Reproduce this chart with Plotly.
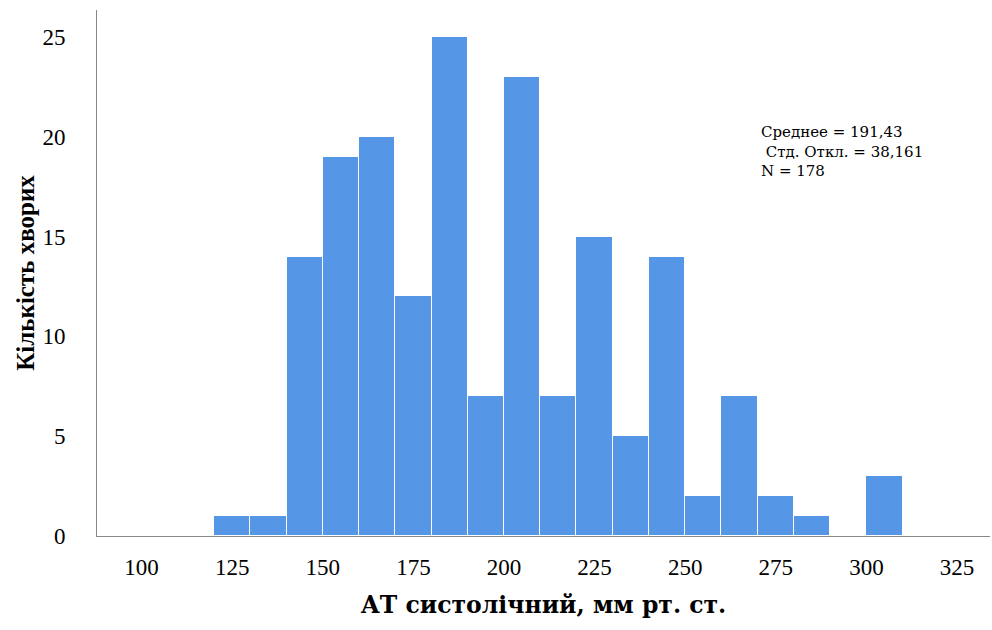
import plotly.graph_objects as go

bin_starts = [120, 130, 140, 150, 160, 170, 180, 190, 200, 210, 220, 230, 240, 250, 260, 270, 280, 290, 300]
counts = [1, 1, 14, 19, 20, 12, 25, 7, 23, 7, 15, 5, 14, 2, 7, 2, 1, 0, 3]
bin_width = 10
x_ticks = [100, 125, 150, 175, 200, 225, 250, 275, 300, 325]
y_ticks = [0, 5, 10, 15, 20, 25]
stats_text = ["Среднее = 191,43", " Стд. Откл. = 38,161", "N = 178"]

centers = [b + bin_width / 2 for b in bin_starts]

fig = go.Figure()
fig.add_trace(go.Bar(
    x=centers, y=counts, width=bin_width,
    marker=dict(color="#5596E6", line=dict(color="white", width=1)),
    hoverinfo="x+y",
))

font_family = "Liberation Serif, Times New Roman, serif"
wide_family = "DejaVu Serif, serif"

fig.update_layout(
    width=992, height=630,
    margin=dict(l=97, r=2, t=10, b=94),
    paper_bgcolor="white", plot_bgcolor="white",
    showlegend=False,
    bargap=0,
    font=dict(family=font_family, color="black"),
    xaxis=dict(
        range=[87.7, 334.1], tickvals=x_ticks, ticktext=[str(v) for v in x_ticks],
        showgrid=False, zeroline=False, showline=True, linecolor="#888888", linewidth=1,
        ticks="", ticklabelstandoff=10,
        tickfont=dict(size=23, family=font_family, color="black"),
        title=dict(text="<b>АТ систолічний, мм рт. ст.</b>", font=dict(size=23.5, family=wide_family), standoff=17),
    ),
    yaxis=dict(
        range=[0, 26.35], tickvals=y_ticks, ticktext=[str(v) for v in y_ticks],
        showgrid=False, zeroline=False, showline=True, linecolor="#888888", linewidth=1,
        ticks="", ticklabelstandoff=26,
        tickfont=dict(size=23, family=font_family, color="black"),
        title=dict(text="<b>Кількість хворих</b>", font=dict(size=25, family=font_family), standoff=0),
    ),
    annotations=[dict(
        x=270.3, y=20.8, xref="x", yref="y", xanchor="left", yanchor="top",
        text="<br>".join(stats_text), showarrow=False, align="left",
        font=dict(size=15, family=wide_family, color="black"),
    )],
)

fig.write_html("out.html")
